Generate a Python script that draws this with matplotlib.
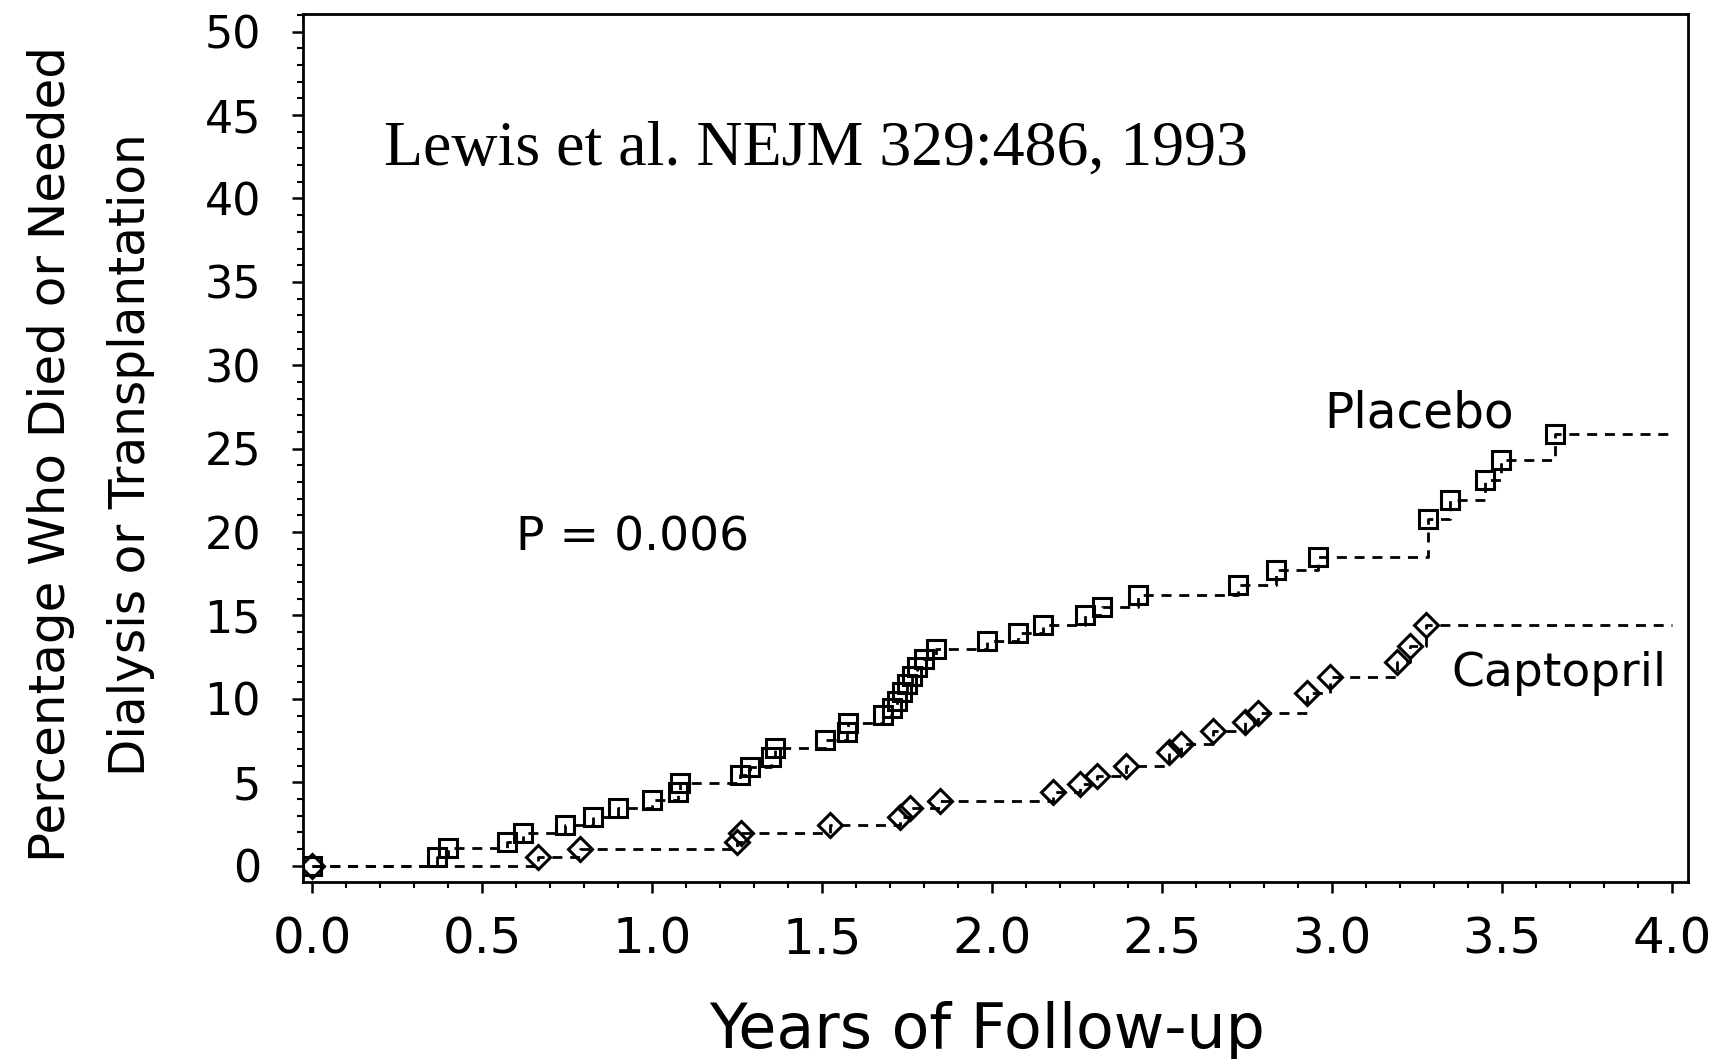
import numpy as np
import matplotlib
matplotlib.use("Agg")
import matplotlib.pyplot as plt
from matplotlib.ticker import MultipleLocator

# ---- data (years, cumulative %) ----
placebo_years = [0.0, 0.366, 0.40, 0.572, 0.62, 0.743, 0.826, 0.90, 0.998, 1.077,
                 1.081, 1.258, 1.287, 1.35, 1.36, 1.508, 1.572, 1.577, 1.678, 1.704,
                 1.72, 1.735, 1.75, 1.765, 1.78, 1.80, 1.836, 1.984, 2.077, 2.150,
                 2.273, 2.322, 2.43, 2.724, 2.836, 2.959, 3.283, 3.346, 3.449, 3.498,
                 3.655]
placebo_pct = [0.0, 0.54, 1.04, 1.44, 1.94, 2.44, 2.94, 3.44, 3.94, 4.44,
               4.94, 5.44, 5.94, 6.53, 7.04, 7.54, 8.03, 8.53, 9.03, 9.45,
               9.9, 10.4, 10.9, 11.4, 11.9, 12.4, 13.0, 13.45, 13.93, 14.43,
               15.0, 15.5, 16.2, 16.85, 17.7, 18.5, 20.8, 21.9, 23.1, 24.3,
               25.9]

captopril_years = [0.0, 0.665, 0.787, 1.25, 1.26, 1.523, 1.728, 1.758, 1.846, 2.18,
                   2.258, 2.307, 2.395, 2.52, 2.555, 2.65, 2.743, 2.782, 2.925, 2.993,
                   3.19, 3.23, 3.275]
captopril_pct = [0.0, 0.54, 0.98, 1.45, 1.98, 2.45, 2.94, 3.43, 3.88, 4.4,
                 4.9, 5.4, 5.95, 6.8, 7.3, 8.1, 8.63, 9.14, 10.34, 11.3,
                 12.2, 13.2, 14.4]

end_of_followup = 4.0
x_ticks = [0.0, 0.5, 1.0, 1.5, 2.0, 2.5, 3.0, 3.5, 4.0]
y_ticks = [0, 5, 10, 15, 20, 25, 30, 35, 40, 45, 50]

SANS = "DejaVu Sans"
SERIF = "Liberation Serif"

fig = plt.figure(figsize=(17.21, 10.59), dpi=100)
ax = fig.add_axes([0.1759, 0.1674, 0.805, 0.8191])

dash = (0, (3.6, 2.8))
for yrs, pct, mk, ms in [(placebo_years, placebo_pct, "s", 12.5),
                         (captopril_years, captopril_pct, "D", 12)]:
    ax.plot(list(yrs) + [end_of_followup], list(pct) + [pct[-1]],
            drawstyle="steps-post", linestyle=dash, color="black", lw=2.0)
    ax.plot(yrs, pct, linestyle="none", marker=mk, ms=ms, mfc="none",
            mec="black", mew=2.2)

ax.set_xlim(-0.028, 4.047)
ax.set_ylim(-0.96, 51.04)
ax.set_xticks(x_ticks)
ax.set_xticklabels([f"{v:.1f}" for v in x_ticks], fontsize=36, family=SANS)
ax.set_yticks(y_ticks)
ax.set_yticklabels([str(v) for v in y_ticks], fontsize=32, family=SANS)
ax.xaxis.set_minor_locator(MultipleLocator(0.1))
ax.yaxis.set_minor_locator(MultipleLocator(1))
ax.tick_params(which="major", direction="out", length=8, width=1.8, colors="black")
ax.tick_params(which="minor", direction="out", length=4, width=1.5)
ax.tick_params(axis="x", which="major", pad=16)
ax.tick_params(axis="y", which="major", pad=22)
for s in ax.spines.values():
    s.set_linewidth(2.0)

ax.text(0.211, 42.0, "Lewis et al. NEJM 329:486, 1993", family=SERIF,
        fontsize=46, ha="left", va="baseline")
ax.text(0.599, 18.87, "P = 0.006", family=SANS, fontsize=34,
        ha="left", va="baseline")
ax.text(2.978, 26.24, "Placebo", family=SANS, fontsize=35,
        ha="left", va="baseline")
ax.text(3.352, 10.77, "Captopril", family=SANS, fontsize=34,
        ha="left", va="baseline")

fig.text(0.5738, 0.0104, "Years of Follow-up", family=SANS, fontsize=44.5,
         ha="center", va="baseline")
fig.text(0.0295, 0.571, "Percentage Who Died or Needed", family=SANS,
         fontsize=36, rotation=90, ha="center", va="center")
fig.text(0.0760, 0.571, "Dialysis or Transplantation", family=SANS,
         fontsize=35, rotation=90, ha="center", va="center")

fig.savefig("out.png", dpi=100)
